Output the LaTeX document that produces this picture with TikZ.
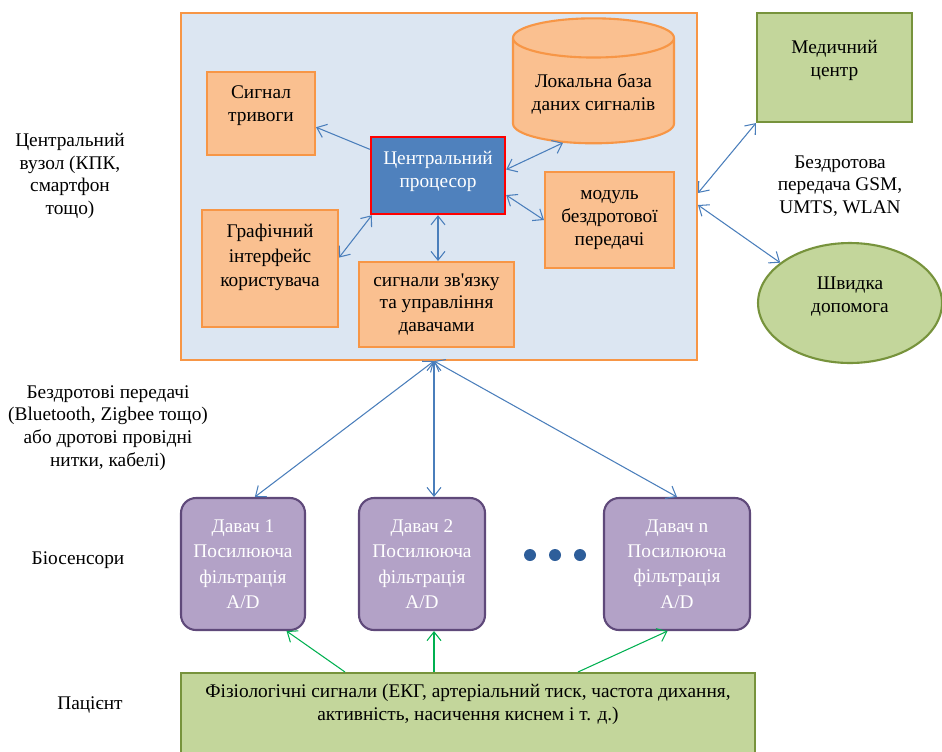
\documentclass[tikz,border=0pt]{standalone}
\usepackage{fontspec}
\setmainfont{Liberation Serif}
\usetikzlibrary{arrows.meta,shapes.geometric}
\definecolor{orangeline}{HTML}{F79646}
\definecolor{orangefill}{HTML}{FAC090}
\definecolor{hubfill}{HTML}{DCE6F2}
\definecolor{cpufill}{HTML}{4F81BD}
\definecolor{greenfill}{HTML}{C3D69B}
\definecolor{greenline}{HTML}{77933C}
\definecolor{sensorfill}{HTML}{B3A2C7}
\definecolor{sensorline}{HTML}{5F497A}
\definecolor{linkblue}{HTML}{4A7EBB}
\definecolor{linkgreen}{HTML}{00B050}
\definecolor{dotblue}{HTML}{2E5E9A}
\tikzset{
  barb/.tip={Straight Barb[length=5pt,width=8pt]},
  hubbox/.style={draw=orangeline, fill=hubfill, line width=1.2pt},
  orangebox/.style={draw=orangeline, fill=orangefill, line width=1.2pt, align=center, inner sep=2pt},
  cpubox/.style={draw=red, fill=cpufill, line width=1.4pt, align=center, text=white, inner sep=2pt},
  greenbox/.style={draw=greenline, fill=greenfill, line width=1.2pt, align=center, inner sep=2pt},
  sensorbox/.style={draw=sensorline, fill=sensorfill, line width=1.2pt, rounded corners=0.3cm, align=center,
    text=white, inner sep=2pt, minimum height=2.64cm, font=\fontsize{11pt}{14.5pt}\selectfont},
  caption/.style={align=center, inner sep=1pt},
  link/.style={draw=linkblue, line width=0.6pt, barb-barb},
  feed/.style={draw=linkgreen, line width=0.6pt, -barb},
  dot/.style={circle, fill=dotblue, inner sep=0pt, minimum size=0.24cm},
}
\begin{document}
\begin{tikzpicture}[x=0.02cm, y=-0.02cm, font=\fontsize{11pt}{13pt}\selectfont]
\useasboundingbox (0,0) rectangle (942,751);
  \node (hub) [hubbox, minimum width=10.32cm, minimum height=6.94cm] at (439,186.5) {};
  \node (alarm) [orangebox, minimum width=2.16cm, minimum height=1.66cm, text depth=0.4cm] at (261,113.5) {Сигнал\\тривоги};
  \node (cpu) [cpubox, minimum width=2.68cm, minimum height=1.54cm, text depth=0.24cm] at (438,175.5) {Центральний\\процесор};
  \node (db) [orangebox, cylinder, shape border rotate=90, aspect=0.3, minimum width=3.22cm, minimum height=2.5cm,
    cylinder uses custom fill, cylinder body fill=orangefill, cylinder end fill=orangefill] at (593.5,94) {Локальна база\\даних сигналів};
  \node (radio) [orangebox, minimum width=2.58cm, minimum height=1.92cm] at (609.5,220) {модуль\\бездротової\\передачі};
  \node (gui) [orangebox, minimum width=2.72cm, minimum height=2.34cm, text depth=0.52cm] at (270,268.5)
    {Графічний\\[1pt]інтерфейс\\[1pt]користувача};
  \node (ctrl) [orangebox, minimum width=3.1cm, minimum height=1.7cm] at (436.5,304.5) {сигнали зв\textquotesingle язку\\та управління\\давачами};
  \node (med) [greenbox, minimum width=3.1cm, minimum height=2.18cm, text depth=0.36cm] at (834.5,67.5) {Медичний\\центр};
  \node (amb) [greenbox, ellipse, minimum width=3.68cm, minimum height=2.4cm, text depth=0.32cm] at (850,303) {Швидка\\допомога};
  \node (gsm) [caption] at (840,186) {Бездротова\\передача GSM,\\UMTS, WLAN};
  \node (hublabel) [caption] at (70,176) {Центральний\\вузол (КПК,\\смартфон\\тощо)};
  \node (wirelabel) [caption] at (108,428) {Бездротові передачі\\(Bluetooth, Zigbee тощо)\\або дротові провідні\\нитки, кабелі)};
  \node (s1) [sensorbox, minimum width=2.48cm] at (243,564) {Давач 1\\Посилююча\\фільтрація\\A/D};
  \node (s2) [sensorbox, minimum width=2.52cm] at (422,564) {Давач 2\\Посилююча\\фільтрація\\A/D};
  \node (s3) [sensorbox, minimum width=2.92cm] at (677,564) {Давач n\\Посилююча\\фільтрація\\A/D};
  \node (d1) [dot] at (530,555) {};
  \node (d2) [dot] at (555,555) {};
  \node (d3) [dot] at (580,555) {};
  \node (biolabel) [caption] at (78,560) {Біосенсори};
  \node (p) [greenbox, anchor=north, minimum width=11.48cm, inner ysep=0.22cm] at (468,672)
    {Фізіологічні сигнали (ЕКГ, артеріальний тиск, частота дихання,\\активність, насичення киснем і т. д.)\\[0.3cm]~};
  \node (plabel) [caption] at (90,705) {Пацієнт};
  \coordinate (hubout) at ([xshift=-0.1cm]hub.south);
  \draw [draw=linkblue, line width=0.6pt, -barb] (cpu.159) -- (alarm.-14);
  \draw [link] (cpu.5) -- (db.-122);
  \draw [link] (cpu.-16) -- (radio.west);
  \draw [link] (cpu.-149) -- (gui.9);
  \draw [link] (cpu.south) -- (cpu.south |- ctrl.north);
  \draw [link] ([yshift=-0.13cm]hub.east) -- (med.south west);
  \draw [link] ([yshift=-0.37cm]hub.east) -- (amb.150);
  \draw [link] (hubout) -- (s1.80);
  \draw [link] (hubout) -- (hubout |- s2.north);
  \draw [link] (hubout) -- (s3.north);
  \draw [feed] ([xshift=-2.46cm]p.north) -- (s1.-57);
  \draw [feed] ([xshift=-0.68cm]p.north) -- ([xshift=-0.68cm]p.north |- s2.south);
  \draw [feed] ([xshift=2.2cm]p.north) -- (s3.-98);
\end{tikzpicture}
\end{document}
